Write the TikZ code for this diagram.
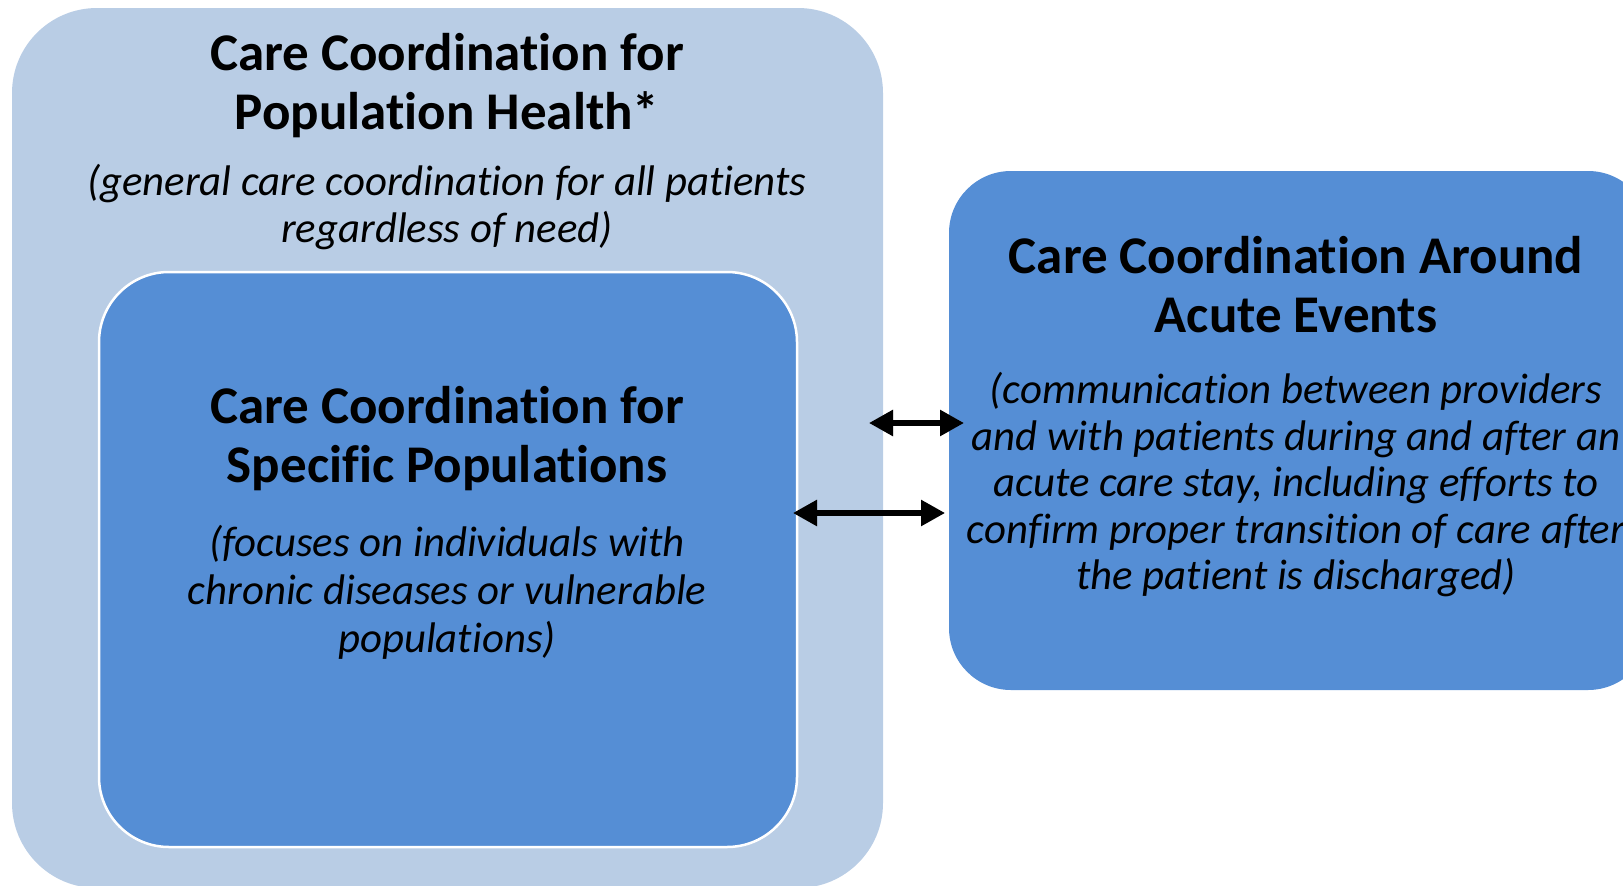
\documentclass[tikz,border=0pt]{standalone}
\usepackage{fontspec}
\setmainfont[Ligatures=NoCommon]{Carlito}
\usetikzlibrary{arrows.meta}
\definecolor{paleblue}{HTML}{B9CDE5}
\definecolor{midblue}{HTML}{558ED5}
\tikzset{
   panel/.style={rounded corners=#1, inner sep=0pt},
   head/.style={font=\fontsize{53}{59}\selectfont\bfseries, align=center},
   note/.style={font=\fontsize{42.8}{46.5}\selectfont\itshape, align=center},
   link/.style={{Triangle[length=24pt,width=25pt]}-{Triangle[length=24pt,width=25pt]}, line width=5.5pt},
}

\begin{document}
\begin{tikzpicture}[x=1pt,y=-1pt]
   \useasboundingbox (0,0) rectangle (1623,886);
   % boxes
   \node[panel=85, fill=paleblue, minimum width=871pt, minimum height=880pt] (pophealth) at (447.5,448) {};
   \node[panel=70, fill=midblue, draw=white, line width=2.5pt, minimum width=698pt, minimum height=575pt] (specific) at (448,559.5) {};
   \node[panel=62, fill=midblue, minimum width=701pt, minimum height=519pt] (acute) at (1299.5,430.5) {};
   % texts
   \node[head] (popTitle) at (447,86) {Care Coordination for\\Population Health*};
   \node[note] (popNote) at (447,207) {(general care coordination for all patients\\regardless of need)};
   \node[head] (specTitle) at (447,439) {Care Coordination for\\Specific Populations};
   \node[note, font=\fontsize{42.8}{48}\selectfont\itshape] (specNote) at (447,592) {(focuses on individuals with\\chronic diseases or vulnerable\\populations)};
   \node[head] (acuteTitle) at (1296,285) {Care Coordination Around\\Acute Events};
   \node[note] (acuteNote) at (1296,485) {(communication between providers\\and with patients during and after an\\acute care stay, including efforts to\\confirm proper transition of care after\\the patient is discharged)};
   % arrows
   \coordinate (a1) at (869,423);
   \coordinate (a2) at (964,423);
   \coordinate (b1) at (793,513);
   \coordinate (b2) at (945,513);
   \begin{scope}[shift={(3,4)}]
     \draw[link, black!35, opacity=.5] (a1) -- (a2);
     \draw[link, black!35, opacity=.5] (b1) -- (b2);
   \end{scope}
   \draw[link] (a1) -- (a2);
   \draw[link] (b1) -- (b2);
\end{tikzpicture}
\end{document}
